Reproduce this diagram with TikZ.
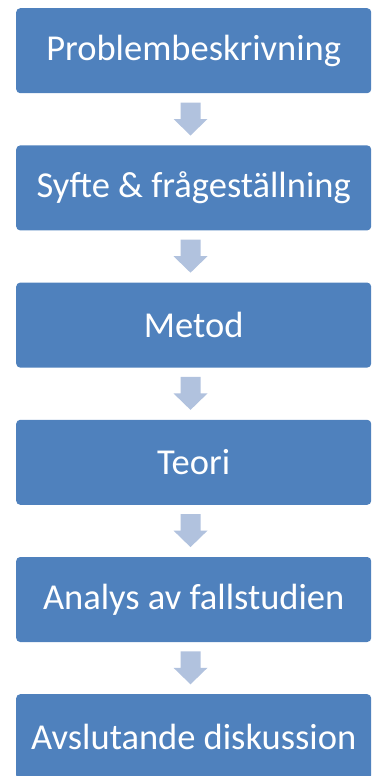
\documentclass[tikz,border=0pt]{standalone}
\usepackage{fontspec}
\setmainfont{Carlito}
\definecolor{boxblue}{HTML}{4F81BD}
\definecolor{arrowblue}{HTML}{B1C2DE}
\begin{document}
\begin{tikzpicture}[x=1pt,y=1pt,
  stepbox/.style={fill=boxblue, rounded corners=4pt, minimum width=355pt, minimum height=85pt, inner sep=0pt, text=white, font=\fontsize{36.5}{42}\selectfont, anchor=north west},
  downarrow/.style={fill=arrowblue, draw=none}]
\useasboundingbox (0,0) rectangle (376,-776);
\clip (0,0) rectangle (376,-776);
\foreach \i/\t in {0/Problembeskrivning,1/Syfte \& frågeställning,2/Metod,3/Teori,4/Analys av fallstudien,5/Avslutande diskussion}{
  \node[stepbox] (b\i) at (16,{-8-137.2*\i}) {\t};
}
\foreach \i in {0,...,4}{
  \pgfmathsetmacro{\top}{-8-137.2*\i-85}
  \fill[arrowblue] (180.5,\top-9.5) -- (200.5,\top-9.5) -- (200.5,\top-26) -- (207.5,\top-26) -- (190.5,\top-42.5) -- (173.5,\top-26) -- (180.5,\top-26) -- cycle;
}
\end{tikzpicture}
\end{document}
